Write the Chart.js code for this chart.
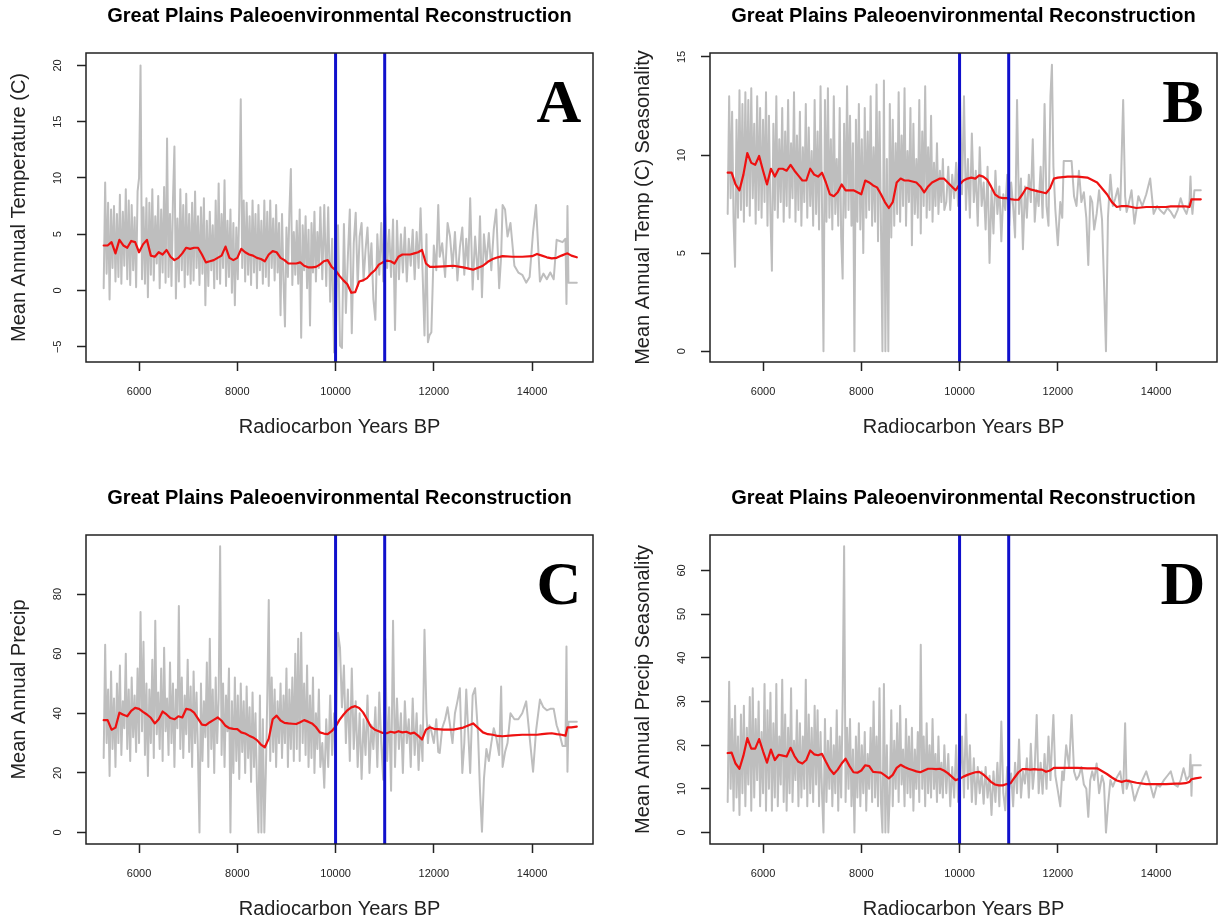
<!DOCTYPE html>
<html>
<head>
<meta charset="utf-8">
<title>Great Plains Paleoenvironmental Reconstruction</title>
<script src="https://cdn.jsdelivr.net/npm/chart.js@4.4.1/dist/chart.umd.min.js"></script>
<style>
  body { margin: 0; background: #fff; }
  #wrap { position: relative; width: 1222px; height: 923px; overflow: hidden; background: #fff; }
  #wrap canvas { position: absolute; }
</style>
</head>
<body>
<div id="wrap">
  <canvas id="panelA" width="598" height="441" style="left:0;top:0"></canvas>
  <canvas id="panelB" width="598" height="441" style="left:624px;top:0"></canvas>
  <canvas id="panelC" width="598" height="441" style="left:0;top:482px"></canvas>
  <canvas id="panelD" width="598" height="441" style="left:624px;top:482px"></canvas>
</div>
<script>
const SANS = "'Liberation Sans', Arial, Helvetica, sans-serif";
const chartTitle = "Great Plains Paleoenvironmental Reconstruction";
const xTitle = "Radiocarbon Years BP";
const xTicks = [6000, 8000, 10000, 12000, 14000];
const markerYears = [10000, 11000];
const xMin = 4920;
const xMax = 15240;

// sample ages (radiocarbon years BP), shared by all four reconstructions
const sampleYears = [
  5280,5310,5340,5370,5400,5430,5460,5490,5520,5550,
  5580,5610,5640,5670,5700,5730,5760,5790,5820,5850,
  5880,5910,5940,5970,6000,6030,6060,6090,6120,6150,
  6180,6210,6240,6270,6300,6330,6360,6390,6420,6450,
  6480,6510,6540,6570,6600,6630,6660,6690,6720,6750,
  6780,6810,6840,6870,6900,6930,6960,6990,7020,7050,
  7080,7110,7140,7170,7200,7230,7260,7290,7320,7350,
  7380,7410,7440,7470,7500,7530,7560,7590,7620,7650,
  7680,7710,7740,7770,7800,7830,7860,7890,7920,7950,
  7980,8010,8040,8070,8100,8130,8160,8190,8220,8250,
  8280,8310,8340,8370,8400,8430,8460,8490,8520,8550,
  8580,8610,8640,8670,8700,8730,8760,8790,8820,8850,
  8880,8910,8940,8970,9000,9030,9060,9090,9120,9150,
  9180,9210,9240,9270,9300,9330,9360,9390,9420,9450,
  9480,9510,9540,9570,9600,9630,9660,9690,
  9730,9770,9810,9850,9890,9930,9970,10010,10050,10090,
  10130,10170,10210,10250,10290,10330,10370,10410,10450,10490,
  10530,10570,10610,10650,10690,10730,10770,10810,10850,10890,
  10930,10970,11010,11050,11090,11130,11170,11210,11250,11290,
  11330,11370,11410,11450,11490,11530,11570,11610,11650,11690,
  11730,11770,
  11810,11850,11880,11910,11950,12000,12050,12090,12120,12170,
  12230,12280,12330,12380,12430,12480,12530,12580,12620,12660,
  12700,12740,12790,12840,12900,12940,12980,13020,13070,13120,
  13170,13220,13270,13330,13370,13400,13450,13500,13560,13640,
  13720,13800,13880,13950,14020,14080,14160,14230,14300,14370,
  14440,14500,14560,14620,14680,14700,14720,14740,14780,14850,
  14910
];

const tempValues = [
  0.2,9.6,1.5,7.8,-0.8,7.2,2.0,7.5,0.8,6.8,
  1.2,8.5,0.6,7.0,2.2,9.0,1.0,8.0,0.5,7.6,
  1.8,6.5,0.3,8.8,10.0,20.0,1.0,7.4,0.6,8.2,
  -0.6,7.8,1.4,9.0,0.9,6.6,2.4,8.4,0.2,7.2,
  1.6,9.2,0.7,13.5,1.2,6.8,0.4,8.0,12.8,-0.7,
  6.4,0.8,9.0,1.8,7.6,0.3,8.6,1.4,6.8,0.6,
  7.8,0.9,8.8,2.0,6.6,0.5,7.4,1.5,8.2,-1.3,
  6.2,0.4,7.0,1.8,5.8,0.2,8.0,1.0,9.5,0.6,
  6.8,2.0,9.8,0.4,6.2,1.2,7.2,-0.2,6.0,-1.3,
  5.6,1.0,7.6,17.0,2.0,8.0,0.8,7.8,1.4,6.6,
  0.5,8.0,1.6,6.8,0.2,7.6,1.8,6.2,0.6,8.0,
  1.2,7.0,0.4,8.0,2.0,6.4,0.9,7.6,1.6,6.0,
  -2.2,6.8,0.8,-3.2,5.6,1.2,7.0,10.8,0.5,5.2,
  1.4,6.2,0.6,7.2,-4.2,5.8,1.8,6.6,0.2,5.4,
  -3.1,6.0,1.6,7.0,0.8,5.2,2.0,7.4,
  1.0,7.6,0.4,7.4,-1.0,4.6,-5.5,-3.2,5.8,-4.9,
  -5.1,5.9,-2.0,3.0,7.2,-3.8,4.2,6.9,0.4,4.8,
  6.0,0.9,3.6,5.6,1.3,4.2,-0.8,-2.6,5.0,1.4,
  6.0,0.8,7.8,2.0,5.4,1.2,6.3,-3.5,6.2,1.0,
  5.0,1.6,5.6,0.8,4.6,2.2,5.4,1.0,5.2,2.0,
  7.3,1.8,
  -4.0,5.0,-4.6,-4.0,-3.7,4.0,1.8,7.6,3.0,4.2,
  1.2,6.0,4.8,2.0,5.2,0.9,3.8,5.6,1.4,4.6,
  2.0,8.2,0.1,4.8,1.0,6.6,-0.6,5.0,2.4,5.1,
  1.8,5.4,7.2,0.2,3.0,7.6,7.2,4.8,6.0,2.2,
  1.6,1.4,0.7,1.2,5.2,7.6,0.8,1.5,1.0,1.6,
  1.0,4.5,4.4,4.3,4.6,-1.2,7.5,0.7,0.7,0.7,
  0.7
];

const tempSeasonality = [
  7.0,13.0,7.8,12.2,6.6,4.3,11.8,6.8,13.3,7.2,
  12.6,6.6,13.2,7.4,12.8,6.9,13.4,7.8,11.6,6.5,
  13.0,7.2,12.4,6.8,11.8,7.6,13.2,6.4,12.0,7.0,
  4.1,11.6,7.2,13.0,6.8,10.8,7.6,12.4,6.6,11.2,
  7.4,12.8,6.8,10.6,7.8,13.2,6.6,11.0,7.2,12.2,
  6.4,10.4,7.6,12.6,6.8,11.4,7.4,10.2,6.4,12.8,
  7.0,11.2,6.2,13.5,7.4,0.0,12.8,6.6,13.4,6.8,
  10.8,6.2,13.0,7.0,9.8,6.4,12.4,5.8,3.7,11.6,
  6.8,13.5,7.2,12.0,6.4,10.6,0.0,11.8,6.6,12.6,
  6.2,10.8,5.0,12.4,6.8,11.2,7.2,13.0,6.4,10.4,
  6.6,13.6,5.6,12.2,6.4,0.0,13.8,0.0,9.8,0.0,
  12.6,5.8,11.8,6.4,10.6,7.0,13.2,6.6,11.0,7.4,
  13.4,6.4,10.2,7.6,12.4,5.4,11.6,7.0,9.8,6.8,
  12.8,6.0,11.2,7.4,13.5,6.8,10.4,7.2,12.0,6.6,
  9.6,7.4,10.6,7.0,9.2,7.6,9.8,7.2,
  7.6,9.4,7.2,9.0,7.8,9.6,7.4,12.9,8.0,13.0,
  7.2,9.8,6.8,11.1,7.6,9.2,6.4,10.4,7.4,8.6,
  6.2,9.4,4.5,8.2,6.0,9.2,7.0,8.4,5.6,8.0,
  7.2,9.0,6.4,8.6,7.4,5.8,12.8,7.0,8.8,5.2,
  8.4,6.8,9.0,7.6,10.8,6.6,8.2,7.4,9.4,6.8,
  12.6,7.4,
  6.4,13.0,14.6,9.4,7.2,5.4,7.6,6.8,9.7,9.7,
  9.7,9.7,7.9,7.4,9.2,7.6,8.1,6.8,4.4,7.9,
  7.6,6.2,7.0,8.2,6.7,3.5,0.0,6.8,9.0,7.4,
  7.8,8.3,7.2,12.8,7.9,7.1,7.6,8.2,6.5,7.9,
  7.4,8.0,8.8,7.0,7.4,7.2,7.0,7.3,7.1,6.8,
  7.2,7.8,7.3,7.0,7.6,8.9,7.6,7.0,8.2,8.2,
  8.2
];

const precipValues = [
  25,63,30,48,19,54,28,45,22,50,
  30,56,26,44,35,60,28,48,24,52,
  32,46,27,55,30,74,34,64,26,50,
  19,48,30,58,25,71,33,47,28,55,
  24,62,34,45,26,57,30,50,22,48,
  35,76,28,52,25,46,33,58,27,49,
  22,54,30,47,26,0,50,24,44,32,
  57,22,65,28,48,20,52,30,45,96,
  26,50,22,46,34,55,0,44,20,52,
  24,46,18,50,27,44,20,49,25,42,
  17,47,22,40,15,0,46,0,38,0,
  20,45,78,24,52,27,48,22,44,30,
  50,25,46,30,55,22,48,28,52,24,
  60,28,65,24,67,30,50,26,56,22,
  46,25,52,20,40,28,48,22,
  30,15,38,22,46,26,40,34,67,62,
  42,56,30,48,24,55,28,44,22,40,
  18,38,26,46,20,36,28,42,22,47,
  30,17.7,65,24,42,14,71,22,45,28,
  40,20,44,30,38,22,45,26,40,21,
  36,24,
  68,40,30,36,34,30,38,27,26.7,35,
  38,42,36,30,40,44,48.4,20,30,48,
  34,20,46,48.4,33,14,0.3,18,28,24,
  30,35,32,26,49,22,27,30,40,38,
  38,40,44,32,20.4,34,44.6,42,41,41.5,
  41.5,36,33,29,29,62.4,20.4,37.2,37.2,37.2,
  37.2
];

const precipSeasonality = [
  7,34.5,10,26,5,29,8,22,4,27,
  9,29,6,24,11,31,5,33,8,26,
  12,30,6,23,9,34,5,28,10,32,
  5,25,8,34,6,22,11,35,7,27,
  5,24,9,33,7,21,12,28,6,25,
  8,22,10,35,6,27,9,24,7,29,
  11,28,6,23,9,0,26,7,21,10,
  24,6,20,9,28,5,22,8,30,65.5,
  7,24,10,26,6,19,0,22,8,25,
  6,20,9,23,5,18,10,24,7,30,
  8,22,6,33,7,0,34,0,20,0,
  9,28,6,21,10,25,7,29,11,19,
  6,26,9,22,8,24,5,19,10,23,
  7,43,10,22,6,25,9,20,8,26,
  10,18,7,22,9,16,8,20,
  9,18,6,15,8,20,7,12,22,8,
  27,10,20,7,17,6.5,15,9,14,6.6,
  15,8,13,4,14,7,16,6,25.4,9,
  5.1,15,10,13.5,6,16,9,21.3,8,14,
  11.2,17,8,20.3,10,15,26.9,9,16,8.9,
  18,10,
  22,12,20,26.9,13,9.6,6,14,12,20,
  15,26.9,14,12.1,13,15,11,10,3.6,12,
  14,12,15.8,9,13,11.2,0,6,12,10.5,
  12,13,14,9,25,10,12,11,7.3,10,
  12,14,11,8,11,10.5,12,13,14,11,
  10.5,12,14.7,12,13,17.8,8.4,15.4,15.4,15.4,
  15.4
];

// running-mean curves
const smoothYears = [
  5280,5360,5440,5520,5600,5680,5760,5840,5920,6000,
  6080,6160,6240,6320,6400,6480,6560,6640,6720,6800,
  6880,6960,7040,7120,7200,7280,7360,7440,7520,7600,
  7680,7760,7840,7920,8000,8080,8160,8240,8320,8400,
  8480,8560,8640,8720,8800,8880,8960,9040,9120,9200,
  9280,9360,9440,9520,9600,9680,9760,9840,9920,10000,
  10080,10160,10240,10320,10400,10480,10560,10640,10720,10800,
  10880,10960,11040,11120,11200,11280,11360,11440,11520,11600,
  11680,11760,11840,11920,12000,12200,12400,12600,12800,13000,
  13100,13200,13300,13400,13600,13800,14000,14100,14200,14300,
  14400,14500,14600,14680,14720,14800,14910
];

const tempSmooth = [
  4.0,4.0,4.3,3.3,4.5,4.0,3.8,4.4,4.3,3.4,
  4.1,4.5,3.1,3.0,3.4,3.2,3.6,3.0,2.7,2.9,
  3.3,3.8,3.7,3.8,3.8,3.2,2.5,2.6,2.7,2.9,
  3.1,3.9,2.9,2.7,2.9,3.7,3.4,3.2,3.1,2.9,
  2.8,2.6,3.2,3.5,3.4,2.9,2.7,2.4,2.4,2.4,
  2.5,2.2,2.06,2.06,2.1,2.3,2.6,2.7,2.1,1.8,
  1.3,0.9,0.55,-0.2,-0.15,0.8,0.9,1.1,1.5,1.8,
  2.3,2.5,2.65,2.6,2.4,3.0,3.2,3.2,3.2,3.3,
  3.4,3.6,2.4,2.1,2.1,2.15,2.2,2.05,1.85,2.2,
  2.55,2.8,2.95,3.05,3.0,3.0,3.05,3.25,3.1,2.95,
  2.85,2.9,3.1,3.25,3.3,3.1,2.95
];

const tempSeasSmooth = [
  9.1,9.1,8.5,8.2,9.0,10.1,9.6,9.5,9.95,9.2,
  8.5,9.3,8.9,9.3,9.3,9.2,9.5,9.2,8.95,8.7,
  8.7,9.3,9.0,8.9,9.1,8.6,8.0,7.9,8.1,8.5,
  8.2,8.2,8.2,8.1,8.0,8.7,8.6,8.45,8.35,8.0,
  7.6,7.3,7.6,8.6,8.8,8.7,8.7,8.65,8.6,8.4,
  8.1,8.4,8.6,8.7,8.8,8.8,8.6,8.4,8.2,8.5,
  8.7,8.8,8.85,8.8,8.96,8.9,8.75,8.4,8.0,7.85,
  7.8,7.8,7.75,7.72,7.72,8.0,8.33,8.25,8.2,8.15,
  8.1,8.05,8.3,8.8,8.85,8.9,8.9,8.85,8.6,8.0,
  7.6,7.35,7.4,7.4,7.3,7.35,7.35,7.35,7.35,7.38,
  7.38,7.38,7.38,7.35,7.74,7.74,7.74
];

const precipSmooth = [
  37.7,37.7,34.5,35.2,40.2,39.5,39.0,40.8,41.8,41.5,
  40.5,39.6,38.5,36.6,38.0,40.6,39.6,38.4,38.0,39.0,
  38.6,41.5,41.2,40.2,38.2,36.2,36.0,37.0,37.8,38.6,
  37.5,35.8,35.0,34.8,34.7,33.6,33.2,32.5,31.9,31.0,
  29.5,28.6,31.5,38.0,39.2,37.6,36.8,36.6,36.5,36.4,
  37.0,37.7,37.2,36.6,35.4,33.6,33.2,33.0,34.0,35.5,
  37.8,39.5,41.0,42.0,42.4,41.8,40.3,38.0,35.5,34.5,
  34.0,33.4,33.3,33.8,33.5,34.0,33.6,33.8,33.2,33.5,
  32.5,31.2,34.5,35.3,34.8,34.5,34.5,35.2,36.6,33.6,
  33.0,32.8,32.4,32.3,32.6,32.8,32.8,32.8,33.0,33.2,
  33.3,33.0,32.8,32.5,35.3,35.3,35.5
];

const precipSeasSmooth = [
  18.2,18.3,15.8,14.6,17.6,21.6,19.2,19.2,21.4,18.6,
  16.0,19.0,16.6,17.8,17.6,17.4,19.4,17.5,16.2,15.8,
  16.6,18.8,17.9,17.7,18.0,16.2,14.5,13.4,14.4,15.8,
  16.9,15.2,13.8,13.7,14.2,15.4,15.2,13.9,13.8,13.7,
  13.1,12.4,13.2,14.8,15.5,15.0,14.6,14.3,14.0,13.8,
  14.2,14.6,14.6,14.5,14.6,14.2,13.6,12.8,12.0,12.3,
  12.8,13.2,13.5,13.8,13.9,13.3,12.5,11.6,11.0,10.8,
  10.8,11.1,11.3,12.6,13.8,14.5,14.5,14.4,14.5,14.4,
  14.4,13.9,14.2,14.8,14.8,14.8,14.8,14.7,14.7,13.4,
  12.6,11.9,11.6,11.9,11.4,11.1,11.1,11.1,11.1,11.15,
  11.2,11.2,11.3,11.6,12.2,12.4,12.6
];

const panelDecor = {
  id: "panelDecor",
  afterDatasetsDraw(chart, args, opts) {
    const { ctx, chartArea: area, scales } = chart;
    ctx.save();
    ctx.strokeStyle = "#1010cc";
    ctx.lineWidth = 3;
    markerYears.forEach(yr => {
      const px = scales.x.getPixelForValue(yr);
      ctx.beginPath();
      ctx.moveTo(px, area.top);
      ctx.lineTo(px, area.bottom);
      ctx.stroke();
    });
    ctx.strokeStyle = "#222";
    ctx.lineWidth = 1.5;
    ctx.strokeRect(area.left, area.top, area.right - area.left, area.bottom - area.top);
    ctx.restore();
  },
  afterDraw(chart, args, opts) {
    const { ctx, chartArea: area, scales } = chart;
    ctx.save();
    ctx.fillStyle = "#000";
    ctx.textAlign = "center";
    ctx.textBaseline = "alphabetic";
    ctx.font = "bold 20px " + SANS;
    ctx.fillText(chartTitle, (area.left + area.right) / 2, 22);
    ctx.font = "bold 62px 'Liberation Serif', 'Times New Roman', serif";
    ctx.fillText(opts.letter, area.right - 34, area.top + 69);
    // y tick labels, parallel to the axis
    ctx.fillStyle = "#222";
    ctx.font = "11px " + SANS;
    ctx.textBaseline = "middle";
    opts.yTicks.forEach(v => {
      const py = scales.y.getPixelForValue(v);
      ctx.save();
      ctx.translate(area.left - 28, py);
      ctx.rotate(-Math.PI / 2);
      ctx.fillText(v < 0 ? "\u2212" + Math.abs(v) : String(v), 0, 0);
      ctx.restore();
    });
    ctx.restore();
  }
};

function buildPanel(canvasId, letter, yLabel, raw, smooth, yMin, yMax, yTicks) {
  const rawPoints = sampleYears.map((yr, i) => ({ x: yr, y: raw[i] }));
  const smoothPoints = smoothYears.map((yr, i) => ({ x: yr, y: smooth[i] }));
  const ctx = document.getElementById(canvasId).getContext("2d");
  return new Chart(ctx, {
    type: "line",
    data: {
      datasets: [
        {
          data: smoothPoints,
          borderColor: "#ee1111",
          borderWidth: 2.2,
          pointRadius: 0,
          tension: 0,
          borderJoinStyle: "round",
          borderCapStyle: "round",
          order: 0
        },
        {
          data: rawPoints,
          borderColor: "#bebebe",
          borderWidth: 2,
          pointRadius: 0,
          tension: 0,
          borderJoinStyle: "round",
          borderCapStyle: "round",
          order: 1
        }
      ]
    },
    options: {
      responsive: false,
      animation: false,
      events: [],
      layout: { padding: { left: 0, top: 53, right: 5, bottom: 0 } },
      plugins: {
        legend: { display: false },
        tooltip: { enabled: false },
        panelDecor: { letter: letter, yTicks: yTicks }
      },
      scales: {
        x: {
          type: "linear",
          min: xMin,
          max: xMax,
          afterBuildTicks: s => { s.ticks = xTicks.map(v => ({ value: v })); },
          afterFit: s => { s.height = 79; },
          border: { display: false },
          grid: { drawOnChartArea: false, drawTicks: true, tickLength: 9, color: "#222", tickColor: "#222", tickWidth: 1.5 },
          ticks: {
            padding: 14,
            color: "#222",
            maxRotation: 0,
            autoSkip: false,
            font: { family: SANS, size: 11 },
            callback: v => String(v)
          },
          title: {
            display: true,
            text: xTitle,
            color: "#222",
            font: { family: SANS, size: 20 },
            padding: { top: 0, bottom: 2 }
          }
        },
        y: {
          type: "linear",
          min: yMin,
          max: yMax,
          afterBuildTicks: s => { s.ticks = yTicks.map(v => ({ value: v })); },
          afterFit: s => { s.width = 86; },
          border: { display: false },
          grid: { drawOnChartArea: false, drawTicks: true, tickLength: 9, color: "#222", tickColor: "#222", tickWidth: 1.5 },
          ticks: { display: false },
          title: {
            display: true,
            text: yLabel,
            color: "#222",
            font: { family: SANS, size: 20 },
            padding: { top: 7, bottom: 0 }
          }
        }
      }
    },
    plugins: [panelDecor]
  });
}

buildPanel("panelA", "A", "Mean Annual Temperature (C)", tempValues, tempSmooth, -6.35, 21.1, [-5, 0, 5, 10, 15, 20]);
buildPanel("panelB", "B", "Mean Annual Temp (C) Seasonality", tempSeasonality, tempSeasSmooth, -0.55, 15.2, [0, 5, 10, 15]);
buildPanel("panelC", "C", "Mean Annual Precip", precipValues, precipSmooth, -3.84, 99.8, [0, 20, 40, 60, 80]);
buildPanel("panelD", "D", "Mean Annual Precip Seasonality", precipSeasonality, precipSeasSmooth, -2.62, 68.1, [0, 10, 20, 30, 40, 50, 60]);
</script>
</body>
</html>
